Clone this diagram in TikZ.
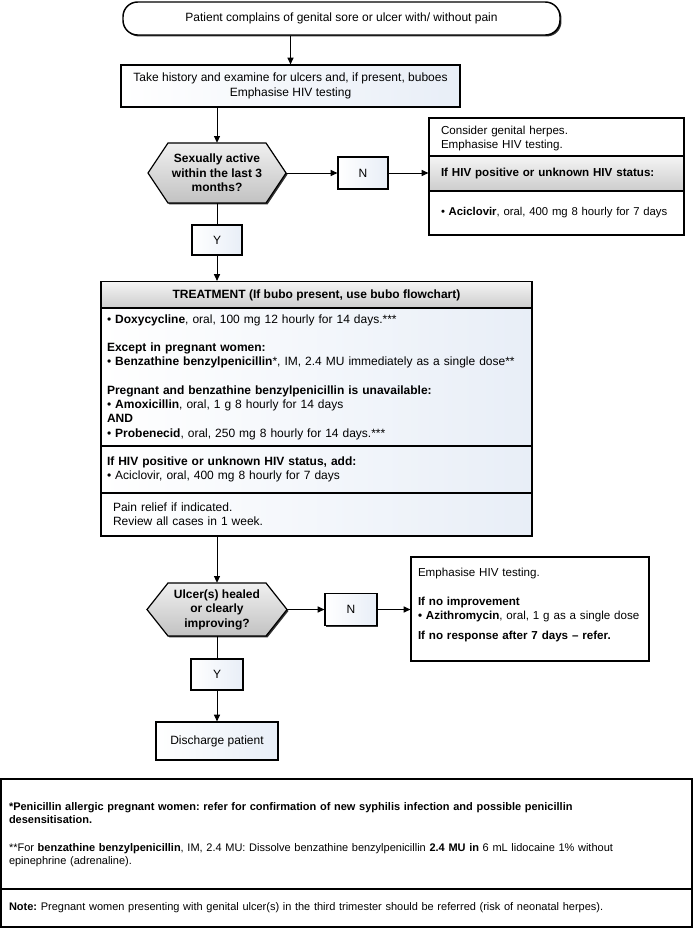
\documentclass[tikz,border=0pt]{standalone}
\usepackage{fontspec}
\setmainfont{Liberation Sans}
\usetikzlibrary{arrows.meta,shadows,calc}
\definecolor{boxblue}{RGB}{232,238,247}
\definecolor{shadowc}{RGB}{50,50,50}
\frenchspacing
\begin{document}
\begin{tikzpicture}[x=0.75pt,y=-0.75pt,
  base/.style={font=\fontsize{9pt}{10.7pt}\selectfont, inner sep=0pt, line width=0.9pt, draw=black},
  shad/.style={general shadow={shadow xshift=1.1pt, shadow yshift=-1.1pt, fill=shadowc}},
  gbox/.style={base, shad, left color=white, right color=boxblue, align=center},
  wbox/.style={base, shad, fill=white},
  hbox/.style={base, shad, top color=gray!8, bottom color=gray!40},
  hexshape/.style={line width=0.9pt, draw=black, top color=gray!12, bottom color=gray!48},
  hextext/.style={font=\fontsize{9pt}{10.9pt}\selectfont\bfseries, inner sep=0pt, align=center},
  arr/.style={line width=0.75pt, -{Triangle[length=5pt,width=4.5pt]}},
  ln/.style={line width=0.75pt},
  foot/.style={font=\fontsize{8.25pt}{10.1pt}\selectfont, inner sep=0pt, line width=1.2pt, draw=black, fill=white, align=left}
]
\useasboundingbox (0,0) rectangle (693,929);
\fill[white] (0,0) rectangle (693,929);

% start
\node[base, shad, fill=white, rounded corners=11pt, minimum width=327.75pt, minimum height=24.75pt, line width=1.1pt] (n0) at (341.5,18.5) {Patient complains of genital sore or ulcer with/ without pain};

% history
\node[gbox, minimum width=254.25pt, minimum height=31.5pt] (n1) at (290.5,86) {Take history and examine for ulcers and, if present, buboes\\Emphasise HIV testing};

% hexagon 1
\fill[shadowc, xshift=1.1pt, yshift=-1.1pt] (148,173) -- (168,143) -- (266,143) -- (286,173) -- (266,203) -- (168,203) -- cycle;
\path[hexshape] (148,173) -- (168,143) -- (266,143) -- (286,173) -- (266,203) -- (168,203) -- cycle;
\node[hextext, minimum width=103.5pt, minimum height=45pt] (h1) at (217,173) {Sexually active\\within the last 3\\months?};

% N box 1
\node[gbox, minimum width=37.5pt, minimum height=24pt] (n2) at (363,173) {N};

% right box 1
\node[wbox, minimum height=28.5pt, text width=173.25pt, inner xsep=9pt, align=left, font=\fontsize{8.7pt}{10.7pt}\selectfont] (r1a) at (556.5,137) {\\[-2.5pt]Consider genital herpes.\\Emphasise HIV testing.};
\node[hbox, minimum height=26.25pt, text width=173.25pt, inner xsep=9pt, align=left, font=\fontsize{8.7pt}{10.7pt}\selectfont\bfseries] (r1b) at (556.5,173.5) {If HIV positive or unknown HIV status:};
\node[wbox, minimum height=33pt, text width=173.25pt, inner xsep=9pt, align=left, font=\fontsize{8.5pt}{10.7pt}\selectfont] (r1c) at (556.5,213) {\mbox{\textbullet\ \textbf{Aciclovir}, oral, 400 mg 8 hourly for 7 days}};

% Y box 1
\node[gbox, minimum width=37.5pt, minimum height=22.5pt] (n3) at (217,240) {Y};

% treatment
\node[hbox, minimum width=323.25pt, minimum height=20.25pt, font=\fontsize{9pt}{10.7pt}\selectfont\bfseries] (tH) at (316.5,295) {TREATMENT (If bubo present, use bubo flowchart)};
\node[gbox, minimum height=103.5pt, text width=314.25pt, inner xsep=4.5pt, align=left] (tS1) at (316.5,377) {\textbullet\ \textbf{Doxycycline}, oral, 100 mg 12 hourly for 14 days.***\\[10.7pt]
\textbf{Except in pregnant women:}\\
\textbullet\ \textbf{Benzathine benzylpenicillin}*, IM, 2.4 MU immediately as a single dose**\\[10.7pt]
\textbf{Pregnant and benzathine benzylpenicillin is unavailable:}\\
\textbullet\ \textbf{Amoxicillin}, oral, 1 g 8 hourly for 14 days\\
\textbf{AND}\\
\textbullet\ \textbf{Probenecid}, oral, 250 mg 8 hourly for 14 days.***};
\node[gbox, minimum height=35.25pt, text width=314.25pt, inner xsep=4.5pt, align=left] (tS2) at (316.5,469.5) {\textbf{If HIV positive or unknown HIV status, add:}\\
\textbullet\ Aciclovir, oral, 400 mg 8 hourly for 7 days};
\node[gbox, minimum height=32.25pt, text width=305.25pt, inner xsep=9pt, align=left] (tS3) at (316.5,514.5) {Pain relief if indicated.\\Review all cases in 1 week.};

% hexagon 2
\fill[shadowc, xshift=1.1pt, yshift=-1.1pt] (147,609.5) -- (168,583) -- (266,583) -- (287,609.5) -- (266,636) -- (168,636) -- cycle;
\path[hexshape] (147,609.5) -- (168,583) -- (266,583) -- (287,609.5) -- (266,636) -- (168,636) -- cycle;
\node[hextext, minimum width=105pt, minimum height=39.75pt] (h2) at (217,609.5) {Ulcer(s) healed\\or clearly\\improving?};

% N box 2
\node[gbox, minimum width=39pt, minimum height=24pt] (n4) at (351,609.5) {N};

% right box 2
\node[wbox, minimum height=78pt, text width=168pt, inner xsep=5.25pt, align=left, font=\fontsize{8.7pt}{10.7pt}\selectfont] (r2) at (530,609) {Emphasise HIV testing.\\[11pt]
\textbf{If no improvement}\\
\mbox{\textbf{\textbullet\ Azithromycin}, oral, 1 g as a single dose}\\[4.5pt]
\textbf{If no response after 7 days – refer.}\\[-2.7pt]\mbox{}};

% Y box 2
\node[gbox, minimum width=39pt, minimum height=23.25pt] (n5) at (217,674.5) {Y};

% discharge
\node[gbox, minimum width=91.5pt, minimum height=28.5pt] (d1) at (217,741) {Discharge patient};

% footer
\node[foot, minimum height=83.25pt, text width=506.25pt, inner xsep=6pt] (f1) at (346.5,834.5) {\textbf{*Penicillin allergic pregnant women: refer for confirmation of new syphilis infection and possible penicillin}\\
\textbf{desensitisation.}\\[10.5pt]
**For \textbf{benzathine benzylpenicillin}, IM, 2.4 MU: Dissolve benzathine benzylpenicillin \textbf{2.4 MU in} 6 mL lidocaine 1\% without\\
epinephrine (adrenaline).};
\node[foot, minimum height=28.5pt, text width=506.25pt, inner xsep=6pt] (f2) at (346.5,908) {\textbf{Note:} Pregnant women presenting with genital ulcer(s) in the third trimester should be referred (risk of neonatal herpes).};

% connectors
\draw[arr] (n0.south -| n1.north) -- (n1.north);
\draw[arr] (n1.south -| h1.north) -- (h1.north);
\draw[arr] (h1.east) -- (n2.west);
\draw[arr] (n2.east) -- (n2.east -| r1b.west);
\draw[ln] (h1.south) -- (n3.north);
\draw[arr] (n3.south) -- (n3.south |- tH.north);
\draw[arr] (tS3.south -| h2.north) -- (h2.north);
\draw[arr] (h2.east) -- (n4.west);
\draw[arr] (n4.east) -- (n4.east -| r2.west);
\draw[ln] (h2.south) -- (n5.north);
\draw[arr] (n5.south) -- (d1.north);
\end{tikzpicture}
\end{document}
